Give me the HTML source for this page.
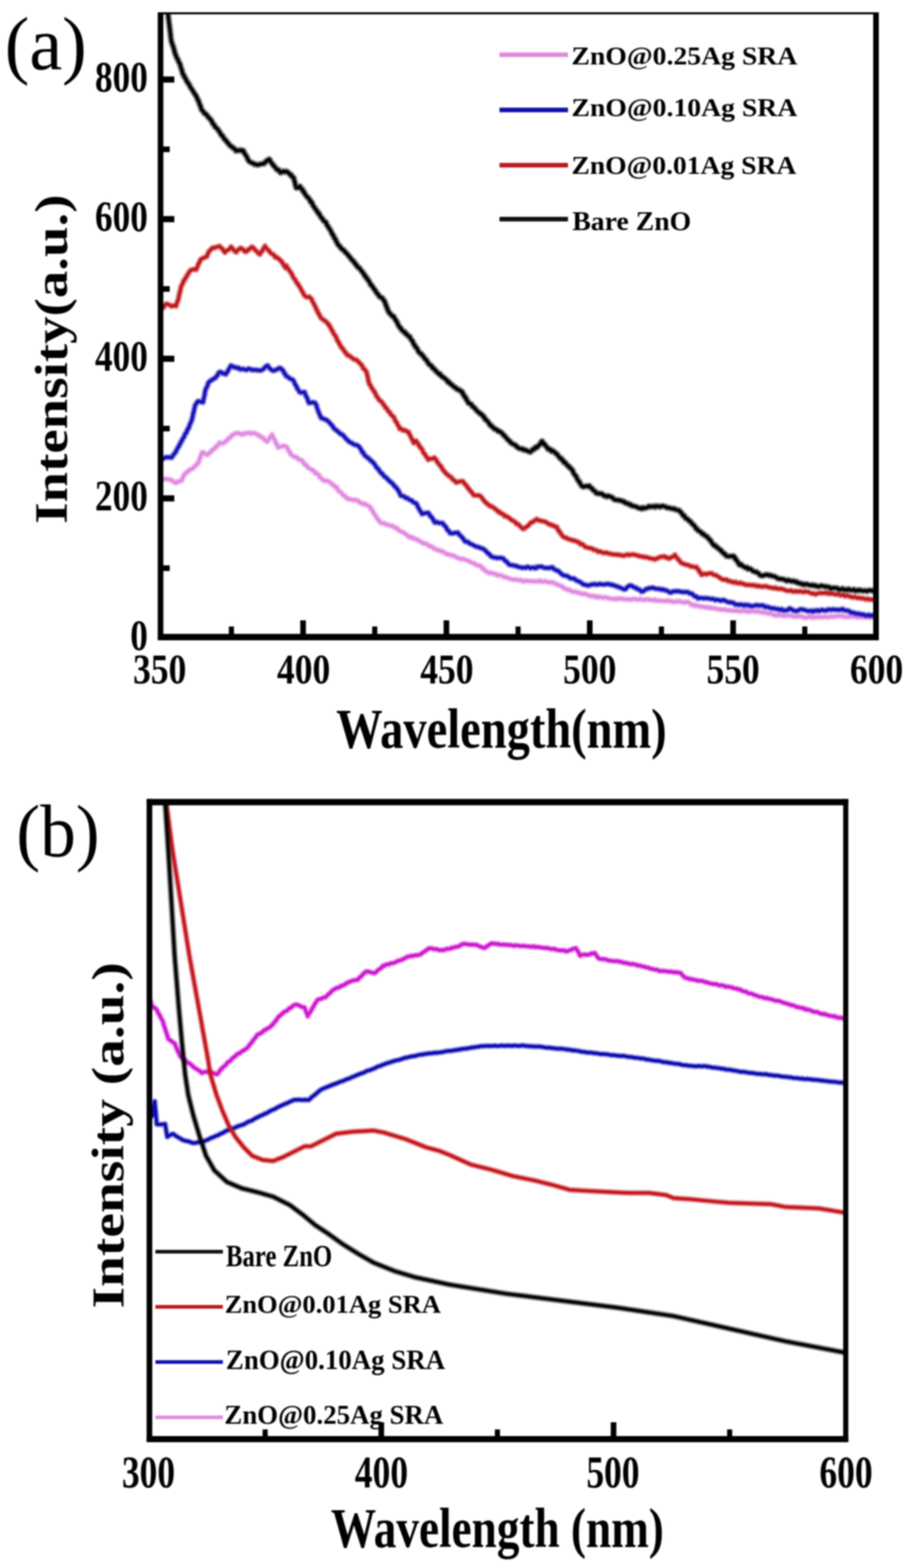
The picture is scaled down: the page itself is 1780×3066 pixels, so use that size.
<!DOCTYPE html>
<html><head><meta charset="utf-8"><title>ZnO@Ag SRA spectra</title>
<style>html,body{margin:0;padding:0;background:#fff;} svg{display:block;filter:blur(1.4px);}</style></head>
<body><svg xmlns="http://www.w3.org/2000/svg" xmlns:xlink="http://www.w3.org/1999/xlink" width="1780" height="3066" viewBox="0 0 1780 3066">
<rect width="1780" height="3066" fill="#fff"/>
<clipPath id="ca"><rect x="314.0" y="26.0" width="1399.5" height="1219.5"/></clipPath>
<clipPath id="cb"><rect x="292" y="1568" width="1362.5" height="1246"/></clipPath>
<g clip-path="url(#ca)">
<defs><path id="c1" d="M312.0,935.5 L316.8,936.0 L320.2,937.3 L323.6,936.6 L327.1,937.1 L330.5,937.7 L333.9,938.2 L337.4,940.5 L340.8,942.3 L344.2,944.3 L347.6,941.6 L351.0,941.3 L354.4,939.9 L355.8,938.7 L357.2,935.3 L358.5,930.6 L359.9,929.9 L361.3,926.8 L364.1,924.3 L367.0,922.5 L369.9,919.6 L372.7,917.5 L375.5,917.1 L378.4,914.2 L380.5,912.4 L382.6,910.4 L384.8,907.7 L386.9,906.7 L388.1,903.5 L389.3,901.3 L390.5,897.3 L391.8,894.5 L393.0,890.9 L394.2,888.2 L395.4,884.5 L398.8,885.2 L402.3,888.2 L405.7,889.3 L408.4,886.8 L411.2,884.4 L413.9,881.3 L416.7,879.1 L419.4,877.2 L421.4,874.2 L423.5,873.6 L425.5,870.3 L427.6,869.1 L429.6,865.5 L433.0,867.0 L436.5,866.7 L439.9,864.5 L442.2,862.2 L444.4,861.1 L446.7,857.1 L449.4,856.4 L452.2,852.9 L454.9,850.0 L457.7,849.4 L460.4,847.7 L463.4,846.8 L466.4,846.8 L469.3,847.8 L472.3,849.9 L475.5,849.2 L478.7,847.3 L481.9,847.4 L485.1,846.8 L488.4,846.5 L491.6,848.2 L494.8,846.4 L498.0,847.2 L500.9,848.6 L503.7,849.6 L506.6,852.7 L509.4,852.8 L512.2,855.9 L515.1,856.2 L517.4,859.3 L519.6,861.0 L521.9,863.4 L523.9,862.5 L526.0,859.3 L528.0,855.3 L530.1,854.1 L532.1,849.6 L533.6,853.1 L535.1,857.3 L536.6,859.7 L538.1,861.3 L539.6,866.6 L541.1,867.6 L542.6,870.7 L544.1,875.0 L547.2,873.5 L550.3,873.1 L553.3,872.2 L556.4,871.9 L559.5,872.8 L561.3,874.8 L563.1,878.6 L564.9,880.8 L566.7,883.9 L568.5,888.0 L570.3,889.7 L573.0,891.4 L575.6,893.6 L578.3,893.2 L581.0,894.6 L583.7,898.0 L586.3,899.3 L589.0,899.2 L591.6,901.7 L594.1,905.7 L596.7,908.8 L599.3,909.4 L601.7,913.4 L604.1,915.3 L606.5,916.6 L608.9,918.2 L611.3,919.4 L613.8,920.9 L616.4,925.1 L619.0,924.9 L621.5,927.8 L623.6,929.0 L625.6,932.9 L627.7,934.7 L629.7,936.3 L631.8,938.4 L635.2,940.6 L638.6,939.8 L642.0,941.1 L645.4,942.9 L647.7,945.6 L650.0,947.0 L652.2,948.1 L654.5,951.7 L656.8,951.8 L659.1,953.3 L661.0,958.3 L663.3,960.8 L665.7,961.8 L668.0,964.2 L670.3,966.7 L672.6,969.3 L675.0,970.2 L677.3,972.8 L680.2,975.1 L683.2,976.2 L686.1,976.3 L689.0,977.2 L691.9,977.8 L694.9,977.6 L697.8,978.2 L700.9,979.4 L703.9,983.0 L707.0,983.7 L710.1,985.7 L713.2,984.5 L716.2,987.4 L719.3,988.3 L722.4,990.2 L724.1,991.7 L725.8,996.0 L727.5,996.2 L729.3,1000.0 L731.0,1003.0 L732.7,1006.0 L734.4,1008.2 L736.1,1010.7 L737.9,1013.5 L739.6,1016.3 L741.3,1017.4 L743.0,1020.9 L746.1,1022.5 L749.1,1023.4 L752.2,1023.3 L755.2,1025.3 L758.3,1026.5 L761.4,1026.7 L764.4,1027.9 L767.5,1028.3 L770.2,1030.4 L773.0,1032.1 L775.7,1032.3 L778.4,1035.3 L781.2,1037.8 L783.9,1039.1 L786.6,1040.3 L789.4,1041.0 L792.1,1043.5 L794.7,1045.2 L797.4,1046.9 L800.0,1050.1 L802.9,1049.3 L805.7,1052.1 L808.5,1051.4 L811.4,1054.0 L814.2,1054.8 L817.1,1055.3 L820.0,1057.9 L822.8,1058.8 L825.6,1060.6 L828.5,1062.8 L831.4,1062.5 L834.2,1063.3 L837.0,1065.5 L839.9,1067.9 L842.8,1068.1 L845.6,1069.4 L848.4,1072.7 L851.3,1073.5 L854.1,1074.1 L857.0,1076.4 L859.8,1076.1 L862.7,1078.1 L865.5,1078.0 L868.3,1079.8 L871.2,1081.9 L874.0,1083.3 L876.9,1084.4 L879.7,1084.2 L882.6,1085.9 L885.4,1086.3 L888.3,1086.8 L891.1,1088.7 L894.0,1090.5 L896.8,1091.5 L899.7,1092.1 L902.5,1093.6 L905.4,1092.8 L908.2,1093.5 L911.1,1095.2 L913.9,1095.9 L916.8,1096.8 L919.6,1098.5 L922.5,1100.2 L925.3,1101.0 L928.2,1101.7 L931.0,1104.2 L933.9,1105.7 L936.7,1105.5 L939.1,1106.4 L941.6,1108.3 L944.0,1112.4 L946.5,1112.2 L948.9,1115.9 L951.4,1117.4 L953.8,1118.7 L957.0,1120.8 L960.2,1119.7 L963.4,1120.8 L966.6,1122.5 L969.8,1122.3 L973.0,1125.2 L976.2,1124.6 L979.4,1125.2 L982.6,1125.8 L985.8,1128.1 L989.0,1128.5 L992.2,1129.8 L995.5,1130.8 L998.7,1132.0 L1001.9,1133.2 L1005.1,1133.4 L1008.5,1132.8 L1011.9,1134.2 L1015.3,1134.1 L1018.7,1134.3 L1022.1,1136.2 L1025.1,1136.9 L1028.2,1135.5 L1031.2,1135.7 L1034.3,1135.9 L1037.3,1136.8 L1040.4,1136.4 L1043.4,1136.6 L1046.5,1137.0 L1049.5,1136.0 L1050.0,1136.5 L1053.1,1137.1 L1056.2,1135.2 L1059.3,1137.8 L1062.4,1137.5 L1065.5,1136.3 L1068.7,1137.4 L1071.8,1138.2 L1074.9,1139.2 L1078.0,1138.2 L1081.1,1139.0 L1084.2,1140.1 L1087.0,1141.4 L1089.9,1143.3 L1092.7,1143.6 L1095.6,1145.6 L1098.4,1145.9 L1101.3,1148.8 L1104.1,1150.6 L1107.0,1151.6 L1109.8,1153.4 L1113.0,1152.9 L1116.2,1155.5 L1119.4,1156.6 L1122.6,1157.4 L1125.8,1157.1 L1129.0,1158.7 L1132.2,1158.3 L1135.4,1160.7 L1138.6,1161.4 L1141.8,1160.9 L1145.0,1161.1 L1148.2,1162.9 L1151.5,1164.0 L1154.7,1165.5 L1157.9,1165.6 L1161.1,1165.3 L1164.2,1167.6 L1167.3,1166.0 L1170.4,1168.2 L1173.5,1166.9 L1176.6,1167.6 L1179.8,1169.1 L1182.9,1167.7 L1186.0,1168.1 L1189.1,1169.3 L1192.2,1170.2 L1195.3,1170.8 L1198.5,1170.6 L1201.7,1171.5 L1204.9,1170.5 L1208.1,1171.9 L1211.3,1169.9 L1214.5,1170.5 L1217.7,1171.5 L1220.9,1171.1 L1224.0,1172.2 L1227.1,1172.0 L1230.2,1171.7 L1233.3,1172.5 L1236.4,1171.8 L1239.6,1171.1 L1242.7,1171.3 L1245.8,1172.5 L1248.9,1172.6 L1252.0,1170.8 L1255.1,1172.5 L1258.3,1173.1 L1261.4,1172.1 L1264.6,1172.5 L1267.8,1171.8 L1271.0,1172.9 L1274.1,1173.1 L1277.3,1173.6 L1280.5,1172.3 L1283.6,1175.0 L1286.8,1174.1 L1290.0,1174.0 L1293.2,1175.3 L1296.3,1174.9 L1299.5,1175.0 L1303.1,1175.7 L1306.6,1174.3 L1310.2,1175.7 L1313.7,1175.6 L1317.3,1177.2 L1320.3,1177.3 L1323.4,1175.7 L1326.4,1176.4 L1329.5,1175.7 L1332.5,1176.6 L1335.6,1177.8 L1338.6,1178.1 L1341.7,1177.2 L1344.7,1176.9 L1347.4,1178.0 L1350.2,1180.4 L1352.9,1182.6 L1355.7,1181.9 L1358.4,1184.9 L1361.4,1183.4 L1364.5,1184.3 L1367.5,1184.9 L1370.5,1186.5 L1373.6,1186.0 L1376.6,1186.6 L1379.6,1187.7 L1382.7,1186.8 L1385.7,1188.9 L1388.7,1187.8 L1391.8,1189.2 L1394.8,1189.0 L1397.8,1189.3 L1400.9,1190.7 L1403.9,1190.9 L1406.9,1191.2 L1410.0,1191.7 L1413.0,1192.5 L1416.0,1191.7 L1419.1,1191.9 L1422.1,1193.2 L1425.2,1193.4 L1428.2,1193.3 L1431.3,1194.2 L1434.3,1193.8 L1437.4,1194.6 L1440.4,1193.1 L1443.4,1194.6 L1446.5,1194.9 L1449.5,1195.3 L1452.5,1193.9 L1455.6,1194.0 L1458.6,1195.8 L1461.6,1194.1 L1464.7,1196.3 L1467.7,1196.1 L1470.8,1194.3 L1474.0,1194.8 L1477.1,1196.3 L1480.2,1195.3 L1483.3,1195.1 L1486.5,1197.2 L1489.6,1196.3 L1492.9,1198.0 L1496.2,1197.0 L1499.5,1198.5 L1502.9,1200.0 L1506.2,1199.0 L1509.5,1200.2 L1512.8,1202.2 L1516.1,1203.1 L1519.4,1203.6 L1522.6,1201.7 L1525.9,1203.0 L1529.2,1204.0 L1532.5,1203.7 L1535.8,1204.5 L1539.0,1203.5 L1542.3,1203.6 L1545.6,1204.0 L1548.9,1204.0 L1552.2,1205.5 L1555.4,1205.5 L1558.7,1205.8 L1562.0,1204.9 L1565.3,1205.1 L1568.6,1205.4 L1571.8,1207.2 L1575.1,1207.7 L1578.4,1207.7 L1581.7,1205.5 L1585.0,1205.5 L1588.2,1207.8 L1591.5,1206.5 L1594.8,1207.3 L1598.1,1206.1 L1601.4,1206.5 L1604.6,1206.6 L1607.9,1206.4 L1611.2,1206.9 L1614.5,1205.2 L1617.8,1206.8 L1621.0,1207.0 L1624.3,1205.1 L1627.6,1205.7 L1630.9,1206.3 L1634.2,1205.2 L1637.4,1204.5 L1640.7,1204.3 L1644.0,1205.0 L1647.3,1203.8 L1650.6,1206.2 L1653.9,1206.0 L1657.2,1205.9 L1660.5,1206.3 L1663.7,1205.8 L1667.0,1205.3 L1670.3,1205.9 L1673.6,1205.7 L1676.9,1207.1 L1680.0,1206.7 L1683.1,1205.3 L1686.2,1207.1 L1689.3,1206.8 L1692.5,1206.9 L1695.6,1207.1 L1698.7,1206.1 L1701.8,1207.5 L1704.9,1207.5 L1708.0,1206.6" fill="none" stroke="#E08AE0" stroke-linejoin="round" stroke-linecap="round"/></defs>
<use href="#c1" stroke-width="12.5" stroke-opacity="0.42"/>
<use href="#c1" stroke-width="6.6"/>
<defs><path id="c2" d="M312.0,897.0 L316.8,896.9 L319.9,896.5 L323.1,894.7 L326.2,894.0 L329.3,894.5 L332.5,893.8 L335.6,894.8 L337.8,891.7 L339.9,888.7 L342.1,885.8 L344.2,883.2 L345.7,879.2 L347.1,877.3 L348.6,873.9 L350.0,873.1 L351.5,868.2 L352.9,867.5 L354.4,862.9 L355.9,861.8 L357.3,858.2 L358.8,855.7 L360.3,854.1 L361.8,849.3 L363.2,846.7 L364.7,846.3 L366.0,842.4 L367.2,838.6 L368.5,838.1 L369.8,835.3 L371.1,830.3 L372.3,828.4 L373.6,824.8 L374.9,822.5 L375.6,820.2 L376.3,816.0 L377.0,814.3 L377.7,809.6 L378.4,806.8 L379.0,805.4 L379.7,801.3 L380.4,798.2 L381.1,795.6 L381.8,792.2 L384.1,789.1 L386.3,785.3 L388.6,784.3 L392.9,785.8 L397.2,786.6 L397.8,782.8 L398.5,779.1 L399.1,776.1 L399.8,773.9 L400.4,770.9 L401.0,766.5 L401.7,763.8 L402.3,761.1 L403.7,758.4 L405.0,756.1 L406.4,752.3 L407.7,748.0 L409.1,746.9 L412.1,744.2 L415.1,742.7 L418.1,740.3 L421.1,739.1 L423.2,736.0 L425.4,734.0 L427.5,729.3 L429.6,727.4 L432.6,727.8 L435.6,730.4 L438.6,730.0 L441.6,731.9 L443.3,729.2 L445.0,727.2 L446.7,722.8 L448.4,721.0 L450.1,717.5 L451.8,714.8 L454.8,716.2 L457.8,718.3 L460.8,717.9 L463.8,720.0 L466.6,719.1 L469.5,722.2 L472.3,721.8 L475.7,721.4 L479.1,722.8 L482.6,723.3 L486.0,720.9 L489.4,721.6 L492.8,723.6 L496.2,723.1 L499.7,723.6 L503.1,723.6 L506.5,724.4 L509.4,724.2 L512.2,723.5 L515.0,721.8 L517.9,718.8 L520.8,715.9 L523.6,714.9 L526.2,718.7 L528.8,721.4 L531.3,723.4 L533.9,724.9 L537.0,724.3 L540.0,722.8 L543.1,721.9 L546.1,719.5 L549.2,720.0 L550.9,722.4 L552.6,723.1 L554.4,726.0 L556.1,730.0 L557.8,731.1 L559.5,735.4 L562.3,736.3 L565.2,738.8 L568.0,740.9 L570.9,741.6 L573.7,743.8 L575.2,746.5 L576.7,750.4 L578.2,753.2 L579.7,754.5 L581.1,759.3 L582.6,760.8 L584.1,763.2 L585.6,766.4 L589.0,767.8 L592.5,766.8 L595.9,766.9 L597.1,770.6 L598.3,773.7 L599.5,776.1 L600.8,778.2 L602.0,781.5 L603.2,785.3 L604.4,788.0 L607.4,787.4 L610.4,786.8 L613.4,786.9 L616.4,787.8 L617.6,790.4 L618.8,792.1 L620.0,797.0 L621.2,800.5 L622.4,803.3 L623.6,806.7 L624.8,809.8 L626.0,811.9 L627.2,815.6 L628.4,817.6 L631.8,818.1 L635.2,820.1 L638.6,821.2 L642.0,824.1 L644.0,825.9 L645.9,828.0 L647.9,830.6 L649.8,831.8 L651.8,835.3 L653.7,838.2 L655.7,839.8 L658.3,841.4 L660.8,843.9 L663.4,845.6 L666.0,848.6 L668.5,849.2 L671.1,851.0 L673.5,853.8 L676.0,857.0 L678.4,859.4 L680.9,861.3 L683.3,864.2 L685.8,865.0 L688.2,866.3 L691.6,868.7 L695.0,869.9 L698.4,870.5 L701.8,873.0 L703.5,874.9 L705.2,877.3 L706.9,880.2 L708.7,884.5 L710.4,884.7 L712.1,888.4 L713.8,890.8 L716.5,892.7 L719.3,895.3 L722.0,896.8 L724.8,900.6 L727.5,901.6 L729.5,904.7 L731.5,905.9 L733.5,909.2 L735.4,912.1 L737.4,915.3 L739.4,916.3 L741.5,919.3 L743.5,922.7 L745.6,925.1 L747.6,925.9 L749.7,929.1 L752.3,932.0 L754.8,933.3 L757.4,936.3 L760.0,938.6 L762.5,941.6 L765.1,942.8 L767.1,945.4 L769.1,946.8 L771.0,950.1 L773.0,951.3 L775.0,954.0 L777.0,955.9 L778.8,959.0 L780.5,961.8 L782.2,965.2 L784.0,969.2 L787.2,969.8 L790.4,970.6 L793.6,973.8 L796.8,973.8 L800.0,976.8 L802.7,977.7 L805.5,978.8 L808.2,981.8 L811.0,983.5 L813.7,983.7 L815.4,986.2 L817.1,990.4 L818.8,993.9 L820.5,996.2 L822.2,999.6 L823.9,1001.5 L825.6,1005.0 L828.6,1003.7 L831.6,1003.6 L834.6,1003.1 L837.6,1002.7 L839.6,1005.4 L841.5,1009.2 L843.5,1010.2 L845.4,1013.0 L847.4,1015.8 L849.3,1020.3 L851.3,1021.9 L854.7,1020.6 L858.1,1022.7 L861.5,1022.8 L864.9,1022.6 L866.8,1023.9 L868.7,1027.3 L870.6,1028.7 L872.5,1030.7 L874.4,1035.1 L876.3,1037.5 L878.2,1038.3 L880.1,1042.5 L882.0,1042.8 L885.4,1043.1 L888.9,1041.9 L892.3,1041.9 L895.7,1041.4 L898.0,1045.4 L900.3,1046.9 L902.5,1049.2 L904.8,1051.7 L907.1,1054.6 L909.4,1058.6 L912.2,1059.4 L915.1,1059.5 L918.0,1062.5 L920.8,1063.5 L923.6,1064.7 L926.5,1066.4 L929.6,1067.8 L932.7,1069.3 L935.9,1069.7 L939.0,1071.2 L942.1,1071.9 L945.2,1073.4 L947.6,1075.0 L950.1,1077.3 L952.5,1079.7 L955.0,1082.5 L957.4,1083.5 L959.9,1087.4 L962.3,1088.5 L965.5,1089.9 L968.7,1090.0 L971.9,1091.1 L975.0,1090.9 L978.2,1090.7 L981.4,1091.2 L984.6,1092.2 L986.6,1094.8 L988.6,1097.3 L990.5,1097.8 L992.5,1099.9 L994.5,1102.3 L996.5,1104.5 L999.7,1104.9 L1002.9,1105.2 L1006.1,1106.2 L1009.3,1106.3 L1012.5,1108.2 L1015.7,1108.5 L1018.9,1109.8 L1022.1,1110.2 L1025.1,1109.8 L1028.2,1110.5 L1031.2,1108.3 L1034.3,1109.0 L1037.3,1111.1 L1040.4,1110.1 L1043.4,1109.6 L1046.5,1111.2 L1049.5,1110.5 L1050.0,1108.5 L1053.1,1108.1 L1056.2,1108.1 L1059.2,1107.8 L1062.3,1109.4 L1065.4,1110.4 L1068.5,1110.7 L1071.6,1110.3 L1074.6,1110.9 L1077.7,1109.6 L1080.8,1109.6 L1083.4,1112.9 L1085.9,1113.8 L1088.5,1115.6 L1091.0,1115.6 L1093.6,1117.9 L1096.2,1120.3 L1098.7,1122.6 L1101.3,1124.5 L1104.5,1125.6 L1107.6,1125.7 L1110.8,1127.1 L1114.0,1129.6 L1117.2,1131.1 L1120.3,1131.0 L1123.5,1131.5 L1126.4,1134.3 L1129.4,1135.8 L1132.3,1137.0 L1135.2,1138.4 L1138.1,1140.5 L1141.1,1142.8 L1144.0,1143.2 L1147.2,1144.1 L1150.4,1145.0 L1153.6,1144.2 L1156.8,1142.7 L1160.0,1142.9 L1163.2,1141.9 L1166.4,1143.3 L1169.6,1142.8 L1172.8,1141.6 L1176.0,1142.6 L1179.2,1142.7 L1182.4,1142.7 L1185.7,1142.2 L1188.9,1142.0 L1192.1,1142.1 L1195.3,1143.8 L1198.1,1143.2 L1201.0,1144.8 L1203.8,1145.8 L1206.7,1146.2 L1209.5,1148.0 L1212.4,1148.6 L1215.2,1150.0 L1218.1,1151.3 L1220.9,1152.4 L1223.9,1151.8 L1226.8,1148.0 L1229.8,1145.9 L1232.8,1144.6 L1235.6,1145.4 L1238.4,1147.2 L1241.2,1149.1 L1243.9,1149.1 L1246.7,1152.1 L1249.5,1152.2 L1252.3,1154.1 L1255.1,1157.0 L1257.9,1156.3 L1260.8,1154.4 L1263.6,1151.9 L1266.4,1151.5 L1269.3,1150.0 L1272.1,1150.3 L1275.1,1149.1 L1278.2,1149.4 L1281.2,1150.9 L1284.3,1151.3 L1287.3,1151.5 L1290.4,1151.6 L1293.4,1153.2 L1296.5,1152.3 L1299.5,1153.9 L1302.2,1153.9 L1305.0,1155.4 L1307.8,1156.5 L1310.5,1158.8 L1313.9,1158.2 L1317.3,1156.2 L1320.8,1156.2 L1324.2,1156.1 L1327.2,1156.0 L1330.3,1156.8 L1333.3,1157.2 L1336.3,1157.9 L1339.4,1157.4 L1342.4,1157.7 L1345.4,1157.5 L1348.5,1160.2 L1351.5,1160.4 L1354.2,1161.2 L1357.0,1164.7 L1359.7,1166.4 L1362.5,1166.4 L1365.2,1170.1 L1368.2,1169.3 L1371.3,1169.3 L1374.3,1169.5 L1377.3,1170.2 L1380.4,1169.5 L1383.4,1169.8 L1386.4,1170.3 L1389.5,1171.1 L1392.5,1171.0 L1395.5,1171.2 L1398.6,1173.4 L1401.6,1172.5 L1404.7,1173.1 L1407.7,1173.7 L1410.8,1174.8 L1413.8,1173.1 L1416.9,1173.6 L1419.9,1175.5 L1422.8,1176.7 L1425.8,1177.7 L1428.7,1177.6 L1431.6,1178.2 L1434.5,1178.7 L1437.5,1181.6 L1440.4,1182.2 L1443.4,1181.9 L1446.5,1182.9 L1449.5,1181.8 L1452.5,1182.8 L1455.6,1184.1 L1458.6,1182.3 L1461.6,1183.9 L1464.7,1183.1 L1467.7,1185.1 L1470.8,1185.1 L1474.0,1184.6 L1477.1,1184.0 L1480.2,1183.0 L1483.3,1184.2 L1486.5,1183.8 L1489.6,1183.9 L1492.9,1183.8 L1496.2,1186.7 L1499.5,1186.4 L1502.9,1187.2 L1506.2,1188.6 L1509.5,1189.4 L1512.8,1189.2 L1516.0,1189.9 L1519.2,1191.3 L1522.4,1190.7 L1525.7,1192.7 L1528.9,1191.1 L1532.1,1193.7 L1535.3,1193.7 L1538.3,1192.8 L1541.4,1192.6 L1544.4,1189.5 L1547.8,1191.1 L1551.2,1193.3 L1554.5,1194.3 L1557.9,1194.9 L1560.9,1194.0 L1564.0,1192.2 L1567.0,1191.2 L1570.4,1192.0 L1573.8,1192.7 L1577.1,1193.9 L1580.5,1194.8 L1583.6,1194.6 L1586.6,1194.1 L1589.7,1196.2 L1592.8,1193.7 L1595.9,1194.6 L1598.9,1193.1 L1602.0,1194.9 L1605.1,1193.5 L1608.2,1192.3 L1611.2,1193.7 L1614.3,1193.4 L1617.4,1193.6 L1620.4,1191.6 L1623.5,1191.9 L1626.6,1192.5 L1629.7,1191.4 L1632.7,1192.1 L1635.8,1192.3 L1638.9,1192.4 L1642.0,1192.4 L1645.0,1192.2 L1648.1,1190.8 L1651.3,1193.2 L1654.6,1193.5 L1657.8,1193.9 L1661.0,1194.7 L1664.2,1197.4 L1667.5,1197.8 L1670.7,1198.2 L1673.9,1199.6 L1677.1,1199.8 L1680.3,1200.0 L1683.5,1201.0 L1686.7,1201.3 L1689.8,1201.6 L1693.0,1203.2 L1696.2,1203.4 L1699.4,1202.2 L1702.6,1204.0 L1705.8,1202.9 L1709.0,1203.8" fill="none" stroke="#1612B8" stroke-linejoin="round" stroke-linecap="round"/></defs>
<use href="#c2" stroke-width="12.5" stroke-opacity="0.42"/>
<use href="#c2" stroke-width="6.6"/>
<defs><path id="c3" d="M312.0,607.0 L314.7,605.1 L317.4,602.7 L320.0,600.7 L322.7,596.6 L325.4,594.3 L328.8,595.2 L332.2,596.6 L335.6,599.0 L339.9,597.4 L344.2,598.5 L345.2,594.6 L346.2,591.7 L347.3,589.0 L348.3,587.0 L349.3,583.3 L349.9,578.8 L350.6,576.4 L351.2,573.1 L351.9,572.0 L352.5,568.9 L353.1,565.9 L353.8,562.9 L354.4,559.7 L356.1,556.9 L357.9,553.1 L359.6,548.3 L361.3,547.1 L363.0,543.4 L364.7,541.3 L366.4,538.1 L368.1,535.0 L370.6,531.4 L373.2,528.2 L376.6,527.3 L380.1,526.2 L383.5,527.4 L384.8,524.4 L386.1,521.9 L387.3,518.2 L388.6,514.8 L390.3,512.5 L392.0,508.0 L393.7,506.6 L397.1,504.8 L400.6,503.0 L404.0,501.9 L405.3,499.8 L406.6,496.1 L407.8,493.7 L409.1,491.1 L412.6,487.9 L416.0,484.6 L419.4,484.7 L422.8,483.2 L426.2,482.4 L429.6,481.4 L432.2,484.4 L434.8,486.2 L437.3,490.3 L439.9,493.7 L442.9,490.1 L445.9,488.8 L448.8,487.2 L451.8,482.7 L454.4,485.1 L457.0,489.0 L459.5,491.2 L462.1,492.9 L464.2,489.5 L466.4,488.0 L468.5,487.0 L470.6,484.9 L473.2,486.8 L475.8,487.4 L478.3,491.3 L480.9,492.2 L483.3,491.0 L485.7,487.4 L488.0,487.5 L490.4,484.5 L492.8,482.8 L495.0,483.7 L497.2,486.9 L499.4,489.0 L501.6,491.2 L503.8,492.8 L506.0,496.0 L508.2,497.2 L509.9,494.5 L511.6,491.6 L513.4,490.4 L515.1,486.3 L516.8,484.1 L518.5,481.1 L520.5,484.9 L522.5,486.9 L524.5,489.2 L526.4,490.1 L528.4,493.5 L530.4,495.5 L533.1,496.8 L535.8,498.5 L538.5,503.1 L541.1,502.7 L543.8,505.2 L546.5,507.0 L549.2,509.9 L550.9,511.1 L552.6,514.6 L554.4,516.9 L556.1,520.7 L557.8,521.1 L559.5,524.5 L560.0,519.3 L561.7,523.3 L563.4,524.9 L565.1,527.6 L566.9,530.8 L568.6,532.6 L570.3,534.7 L572.0,538.7 L573.7,542.6 L575.4,544.8 L577.1,546.2 L578.8,550.0 L580.5,553.2 L582.2,554.3 L583.9,557.8 L585.6,559.9 L587.1,562.3 L588.5,565.1 L590.0,567.6 L591.5,570.7 L593.0,572.5 L594.4,576.1 L595.9,578.0 L598.9,580.6 L601.8,581.1 L604.8,580.4 L607.8,583.2 L609.3,584.6 L610.7,588.3 L612.2,591.4 L613.7,593.8 L615.2,596.6 L616.6,599.9 L618.1,602.1 L619.6,606.9 L621.0,607.8 L622.5,612.6 L624.0,614.0 L625.5,617.1 L626.9,620.3 L628.4,622.3 L631.4,624.3 L634.3,626.6 L637.3,628.5 L640.3,631.4 L642.0,634.6 L643.7,635.1 L645.4,639.3 L647.2,641.2 L648.9,645.8 L650.6,647.5 L652.3,651.9 L653.8,653.9 L655.3,655.6 L656.9,658.1 L658.4,661.6 L659.9,666.1 L661.4,667.1 L663.0,670.8 L664.5,673.3 L666.0,676.1 L667.9,679.7 L669.9,680.6 L671.8,684.4 L673.8,686.7 L675.7,689.8 L677.7,691.2 L679.6,694.7 L682.3,695.1 L685.1,697.2 L687.8,699.0 L690.6,701.3 L693.3,703.1 L696.3,703.2 L699.2,705.5 L702.2,708.6 L705.2,711.5 L706.9,713.5 L708.6,715.6 L710.3,720.0 L712.1,720.9 L713.8,723.1 L715.5,725.6 L717.2,728.3 L718.1,733.4 L718.9,735.2 L719.8,740.1 L720.6,743.9 L721.4,747.5 L722.3,750.4 L723.9,752.0 L725.4,755.2 L727.0,758.4 L728.5,760.7 L730.1,762.2 L731.6,766.1 L733.2,767.0 L734.7,770.2 L736.3,774.6 L737.8,775.9 L739.4,778.0 L741.5,781.9 L743.7,783.6 L745.8,785.0 L748.0,787.6 L750.1,790.8 L752.2,793.5 L754.4,797.7 L756.5,798.4 L758.5,802.5 L760.4,804.9 L762.4,806.2 L764.3,810.2 L766.3,812.0 L768.2,813.7 L770.2,815.6 L771.7,818.9 L773.2,822.8 L774.7,824.6 L776.2,826.5 L777.6,829.8 L779.1,832.8 L780.6,834.8 L782.1,838.6 L785.0,838.3 L787.8,841.5 L790.7,841.0 L793.5,841.9 L796.4,844.3 L799.2,844.7 L800.7,849.1 L802.1,851.1 L803.6,854.1 L805.1,857.8 L806.6,859.2 L808.0,863.5 L809.5,866.2 L813.7,861.9 L815.4,865.9 L817.1,866.0 L818.8,870.7 L820.5,871.4 L822.2,875.8 L823.9,876.5 L825.6,878.8 L827.3,882.7 L829.0,886.5 L830.7,887.4 L832.5,890.7 L834.2,893.7 L835.9,895.4 L837.6,898.9 L840.6,896.7 L843.6,897.0 L846.6,896.9 L849.6,895.0 L851.5,897.1 L853.3,899.1 L855.1,903.2 L857.0,904.9 L858.9,908.6 L860.7,910.5 L862.5,911.3 L864.4,915.8 L866.2,918.3 L868.1,920.4 L869.9,922.8 L871.8,924.9 L874.1,927.1 L876.4,929.0 L878.6,930.9 L880.9,932.1 L883.2,933.9 L885.5,937.5 L887.7,939.3 L890.0,940.0 L892.3,943.6 L895.3,942.6 L898.2,941.5 L901.2,941.4 L904.2,940.8 L906.2,942.0 L908.3,945.6 L910.3,947.3 L912.3,950.0 L914.3,952.0 L916.4,955.9 L918.4,957.1 L920.4,960.9 L922.4,961.8 L924.5,965.2 L926.5,968.3 L929.9,968.5 L933.3,968.6 L936.7,968.7 L940.1,970.5 L942.4,972.9 L944.7,976.5 L947.0,979.0 L949.2,982.1 L951.5,983.2 L953.8,985.7 L956.4,987.8 L958.9,990.0 L961.5,989.9 L964.0,992.0 L966.6,993.5 L969.2,995.7 L971.7,997.3 L974.3,1000.8 L976.8,1000.5 L979.4,1004.1 L982.0,1004.2 L984.5,1005.6 L987.1,1009.4 L989.7,1008.8 L992.2,1010.5 L994.8,1012.3 L997.4,1013.8 L1000.0,1016.4 L1002.5,1017.6 L1005.1,1019.2 L1007.8,1020.8 L1010.5,1024.5 L1013.2,1024.8 L1015.8,1027.2 L1018.5,1030.1 L1021.2,1032.8 L1023.9,1034.2 L1026.5,1032.5 L1029.0,1030.6 L1031.6,1028.9 L1034.1,1027.2 L1036.7,1023.5 L1039.3,1021.4 L1041.8,1021.0 L1044.4,1018.8 L1046.9,1016.9 L1049.5,1015.7 L1050.0,1015.2 L1053.4,1017.6 L1056.8,1017.8 L1060.3,1018.9 L1063.7,1019.4 L1067.1,1020.5 L1069.9,1022.6 L1072.6,1023.8 L1075.4,1026.0 L1078.2,1025.7 L1081.0,1028.1 L1083.8,1027.8 L1086.5,1030.5 L1089.3,1030.5 L1091.0,1035.0 L1092.7,1038.0 L1094.4,1038.8 L1096.2,1042.9 L1097.9,1044.1 L1099.6,1047.0 L1101.3,1049.2 L1104.5,1051.1 L1107.7,1051.3 L1110.9,1053.9 L1114.1,1054.6 L1117.3,1055.3 L1120.5,1057.1 L1123.7,1056.9 L1126.9,1058.3 L1129.7,1059.8 L1132.5,1060.4 L1135.2,1064.2 L1138.0,1063.6 L1140.8,1065.2 L1143.5,1068.5 L1146.3,1070.0 L1149.1,1070.6 L1152.1,1071.6 L1155.1,1071.9 L1158.1,1072.6 L1161.0,1075.0 L1164.0,1075.3 L1167.0,1076.2 L1170.0,1079.2 L1173.0,1078.0 L1176.2,1079.3 L1179.4,1080.9 L1182.6,1081.3 L1185.7,1080.2 L1188.9,1082.3 L1192.1,1082.4 L1195.3,1083.0 L1198.5,1084.3 L1201.7,1084.3 L1204.9,1084.2 L1208.1,1085.1 L1211.3,1084.8 L1214.5,1085.4 L1217.7,1086.5 L1220.9,1086.4 L1224.3,1085.4 L1227.7,1084.2 L1231.2,1085.8 L1234.6,1084.3 L1238.0,1084.2 L1241.2,1084.5 L1244.4,1085.8 L1247.6,1086.1 L1250.8,1087.8 L1254.0,1087.8 L1257.2,1088.4 L1260.4,1089.6 L1263.6,1089.3 L1267.0,1090.3 L1270.4,1091.5 L1273.9,1092.1 L1277.3,1092.9 L1280.7,1093.9 L1283.8,1092.2 L1287.0,1091.3 L1290.1,1089.5 L1293.2,1088.8 L1296.4,1088.5 L1299.5,1087.8 L1302.3,1090.4 L1305.0,1089.8 L1307.8,1092.2 L1310.9,1091.5 L1313.9,1089.1 L1317.0,1088.4 L1320.1,1084.9 L1322.3,1089.2 L1324.5,1091.1 L1326.6,1094.1 L1328.8,1095.5 L1331.0,1099.1 L1334.3,1101.6 L1337.6,1102.8 L1340.8,1103.7 L1344.1,1104.7 L1347.4,1105.1 L1350.4,1107.4 L1353.4,1107.2 L1356.5,1108.5 L1359.5,1108.8 L1362.5,1108.7 L1364.4,1112.7 L1366.3,1113.5 L1368.2,1118.4 L1370.1,1118.9 L1372.0,1123.9 L1375.3,1122.6 L1378.6,1122.0 L1381.8,1123.0 L1385.1,1121.6 L1388.4,1121.3 L1392.1,1121.1 L1395.7,1123.9 L1399.4,1124.4 L1402.8,1126.1 L1406.2,1128.5 L1409.1,1130.3 L1412.1,1132.6 L1415.0,1133.4 L1417.9,1133.4 L1420.8,1133.2 L1423.8,1136.3 L1426.7,1135.6 L1429.7,1137.6 L1432.8,1137.6 L1435.8,1139.4 L1438.8,1137.9 L1441.9,1140.2 L1444.9,1140.6 L1447.9,1139.3 L1451.0,1141.4 L1454.0,1141.3 L1457.0,1142.8 L1459.9,1143.9 L1462.9,1143.6 L1465.9,1143.6 L1468.8,1144.4 L1471.8,1143.9 L1474.8,1144.9 L1477.7,1144.5 L1480.7,1146.5 L1483.7,1145.3 L1486.6,1146.9 L1489.6,1146.5 L1492.6,1147.5 L1495.6,1146.3 L1498.6,1146.3 L1501.6,1147.9 L1504.6,1148.2 L1507.7,1149.2 L1510.8,1149.3 L1513.8,1150.7 L1516.9,1149.1 L1520.0,1151.0 L1523.0,1151.6 L1526.1,1151.0 L1529.2,1151.6 L1532.3,1152.3 L1535.3,1153.6 L1538.4,1154.8 L1541.5,1155.1 L1544.6,1155.2 L1547.7,1154.5 L1550.7,1156.7 L1553.8,1156.6 L1556.9,1155.8 L1560.0,1157.1 L1563.0,1156.2 L1566.1,1156.5 L1569.2,1157.0 L1572.2,1157.9 L1575.3,1156.3 L1578.4,1157.3 L1581.7,1157.5 L1585.0,1159.5 L1588.2,1160.7 L1591.5,1160.1 L1594.8,1162.1 L1598.1,1160.9 L1601.4,1159.8 L1604.6,1159.4 L1607.9,1159.6 L1611.2,1159.8 L1614.2,1159.6 L1617.2,1158.5 L1620.1,1160.9 L1623.1,1160.7 L1626.1,1160.7 L1629.1,1160.6 L1632.1,1161.5 L1635.1,1162.6 L1638.0,1161.8 L1641.0,1161.9 L1644.0,1164.2 L1647.1,1163.6 L1650.2,1163.1 L1653.2,1165.8 L1656.3,1164.2 L1659.4,1165.4 L1662.4,1166.6 L1665.5,1167.2 L1668.6,1168.3 L1671.7,1166.9 L1674.8,1168.3 L1677.9,1169.5 L1680.9,1168.8 L1684.0,1169.9 L1687.1,1169.6 L1690.2,1170.7 L1693.3,1171.7 L1697.0,1170.7 L1700.7,1172.4 L1704.3,1172.0 L1708.0,1173.0" fill="none" stroke="#C01A1E" stroke-linejoin="round" stroke-linecap="round"/></defs>
<use href="#c3" stroke-width="12.5" stroke-opacity="0.42"/>
<use href="#c3" stroke-width="6.6"/>
<defs><path id="c4" d="M328.4,25.5 L328.7,28.8 L329.1,31.4 L329.4,34.9 L329.7,35.8 L330.0,38.5 L330.4,42.5 L330.7,45.1 L331.0,46.8 L331.4,50.6 L331.7,52.5 L332.0,56.3 L332.4,57.2 L332.7,60.2 L333.0,64.8 L333.4,66.1 L333.7,68.5 L334.0,72.8 L334.3,75.0 L334.7,76.4 L335.0,80.2 L335.8,83.1 L336.6,84.1 L337.4,88.0 L338.2,89.0 L339.0,92.1 L339.7,93.9 L340.5,96.7 L341.3,101.4 L342.1,102.2 L342.9,106.4 L343.7,107.3 L344.8,110.3 L345.9,113.5 L347.0,115.4 L348.1,116.3 L349.2,120.1 L350.3,122.6 L351.4,123.8 L352.5,126.1 L353.3,130.9 L354.1,132.6 L354.9,134.4 L355.7,137.9 L356.5,139.9 L357.3,144.2 L358.4,145.7 L359.6,146.9 L360.8,151.1 L361.9,151.4 L363.1,154.2 L364.2,155.8 L365.7,160.1 L367.2,160.7 L368.7,164.2 L370.1,165.4 L371.6,168.8 L373.1,171.7 L374.6,173.6 L376.1,175.8 L377.6,178.3 L379.0,180.6 L380.5,183.5 L382.0,184.5 L383.5,188.0 L384.9,189.8 L386.4,194.0 L387.3,196.7 L388.3,196.7 L389.2,199.4 L390.2,203.4 L391.1,205.5 L392.1,206.5 L393.0,210.8 L394.0,214.0 L394.9,215.0 L396.6,216.7 L398.3,219.2 L400.0,222.1 L401.7,222.1 L403.5,224.1 L405.2,225.7 L406.9,228.9 L408.6,230.3 L410.3,231.6 L411.8,234.1 L413.3,235.3 L414.8,238.2 L416.3,242.2 L417.8,243.2 L419.3,244.5 L420.8,248.5 L422.3,249.0 L424.0,251.0 L425.7,252.6 L427.4,255.2 L429.1,257.6 L430.8,260.0 L432.5,264.0 L434.2,264.5 L435.9,266.6 L437.6,269.7 L439.4,272.7 L441.1,273.1 L442.8,276.6 L444.5,277.6 L446.2,280.3 L448.1,282.1 L450.1,284.8 L452.0,286.0 L453.9,287.0 L455.8,289.6 L457.8,290.0 L459.7,291.8 L461.6,295.1 L464.3,293.9 L467.0,294.6 L469.8,293.3 L472.5,295.0 L475.2,294.1 L476.4,295.3 L477.6,299.5 L478.8,300.4 L480.0,302.2 L481.2,304.2 L482.4,306.0 L483.6,308.5 L484.8,312.1 L486.0,312.8 L487.2,315.3 L489.8,317.0 L492.3,318.4 L494.9,319.1 L497.5,321.3 L500.0,321.0 L502.6,322.4 L505.6,322.2 L508.6,320.9 L511.6,320.7 L514.6,320.1 L516.6,320.0 L518.6,316.7 L520.5,316.5 L522.5,313.5 L524.5,313.0 L526.5,311.3 L527.9,312.8 L529.4,316.7 L530.8,318.2 L532.2,320.2 L533.7,321.0 L535.1,324.3 L537.0,325.6 L539.0,327.9 L540.9,330.9 L542.9,332.4 L544.8,331.9 L546.8,335.3 L548.7,337.7 L551.4,336.3 L554.2,334.7 L556.9,336.5 L559.7,334.9 L562.4,336.1 L564.1,337.8 L565.8,339.6 L567.5,341.9 L569.3,341.4 L571.0,345.4 L572.7,346.0 L574.4,347.5 L575.1,350.8 L575.9,354.1 L576.6,355.2 L577.3,359.1 L578.0,362.7 L578.8,364.6 L579.5,367.4 L581.9,366.0 L584.3,367.1 L586.7,364.3 L588.3,367.7 L589.9,369.8 L591.5,370.1 L593.1,375.1 L594.7,375.1 L596.4,379.4 L598.0,381.4 L599.6,383.5 L601.2,385.5 L602.8,386.4 L604.4,388.7 L605.9,390.7 L607.4,394.7 L609.0,394.4 L610.5,397.0 L612.0,401.6 L613.5,403.4 L615.1,405.4 L616.6,408.4 L618.1,409.5 L619.6,412.6 L621.1,413.8 L622.5,417.3 L624.0,417.3 L625.5,420.6 L627.0,423.2 L628.6,425.8 L630.1,426.7 L631.7,429.4 L633.3,432.1 L634.9,432.6 L636.4,433.9 L638.0,435.4 L639.3,440.0 L640.6,441.2 L641.9,443.2 L643.2,445.9 L644.5,447.0 L645.8,449.6 L647.1,451.9 L648.4,454.2 L649.7,458.2 L651.0,458.7 L652.3,460.6 L653.6,465.0 L654.9,466.4 L656.1,467.2 L657.4,471.3 L658.7,473.7 L660.0,475.8 L661.2,478.5 L662.5,479.8 L664.4,481.1 L666.3,484.5 L668.2,486.1 L670.1,488.2 L672.0,488.6 L673.9,491.0 L675.8,493.8 L677.7,494.9 L679.6,497.4 L681.3,499.1 L683.0,502.0 L684.7,502.9 L686.4,505.4 L688.2,508.5 L689.9,509.1 L691.6,510.8 L693.3,514.2 L695.0,514.9 L696.7,518.8 L698.4,519.1 L700.1,522.8 L701.9,523.7 L703.6,524.6 L705.3,527.5 L707.0,529.9 L708.7,531.3 L710.2,534.0 L711.7,535.5 L713.2,539.4 L714.7,539.5 L716.3,543.5 L717.8,543.6 L719.3,547.3 L720.8,548.3 L722.3,550.8 L723.9,554.2 L725.4,557.3 L727.0,557.8 L728.5,560.2 L730.1,562.6 L731.6,565.1 L733.2,566.6 L734.7,568.8 L736.3,572.3 L737.8,573.7 L739.4,575.3 L741.4,578.6 L743.4,581.1 L745.4,581.5 L747.4,582.3 L749.4,585.2 L751.4,588.8 L752.4,589.2 L753.3,591.8 L754.3,595.9 L755.2,596.5 L756.2,601.0 L757.1,601.7 L758.1,604.7 L759.0,607.7 L760.0,608.8 L762.0,612.7 L764.0,613.7 L766.0,616.6 L767.9,618.6 L769.9,618.6 L771.9,622.7 L773.2,625.0 L774.5,625.8 L775.7,629.1 L777.0,630.4 L778.3,633.7 L779.5,636.6 L780.8,637.9 L782.1,640.7 L784.0,641.5 L785.9,645.4 L787.8,646.7 L789.7,649.1 L791.6,648.9 L793.5,652.7 L795.4,652.8 L797.3,656.0 L799.2,656.9 L800.0,658.2 L801.4,658.3 L802.9,661.6 L804.3,663.8 L805.7,665.9 L807.1,667.3 L808.5,671.2 L810.0,674.3 L811.4,674.9 L812.8,678.7 L814.2,679.4 L815.7,681.5 L817.1,684.3 L818.8,687.9 L820.5,689.5 L822.2,691.2 L824.0,691.7 L825.7,695.0 L827.4,695.9 L829.1,698.1 L830.8,701.2 L832.5,702.7 L834.2,704.2 L835.9,707.2 L837.6,709.8 L839.3,712.1 L841.0,713.9 L842.7,714.5 L844.4,715.6 L846.1,719.7 L847.8,720.1 L849.7,721.6 L851.5,724.6 L853.4,725.6 L855.3,728.4 L857.2,729.4 L859.0,731.8 L860.9,731.3 L862.8,735.2 L864.7,735.8 L866.5,737.9 L868.4,738.5 L870.3,740.1 L872.1,741.9 L874.0,743.3 L875.9,747.2 L877.7,746.6 L879.6,748.6 L881.4,751.4 L883.3,751.9 L885.2,753.7 L887.0,755.5 L888.9,757.2 L891.2,757.7 L893.4,760.8 L895.7,761.7 L898.0,761.9 L900.2,764.7 L902.5,764.9 L903.9,766.1 L905.2,770.5 L906.6,770.6 L908.0,774.5 L909.4,776.7 L910.7,776.7 L912.1,781.3 L913.5,782.3 L914.8,784.8 L916.2,788.2 L918.2,788.6 L920.1,789.7 L922.1,790.8 L924.0,794.9 L926.0,795.4 L927.9,797.8 L929.9,799.3 L931.8,802.2 L933.7,804.0 L935.6,805.9 L937.5,806.6 L939.5,809.7 L941.4,809.9 L943.3,811.3 L945.2,814.7 L946.9,815.0 L948.6,819.7 L950.3,820.0 L952.0,822.3 L953.8,824.0 L955.5,826.1 L957.2,828.8 L958.9,831.5 L960.6,831.4 L962.3,834.4 L964.7,835.6 L967.2,839.0 L969.6,839.0 L972.1,840.5 L974.5,843.4 L977.0,843.3 L979.4,844.8 L981.3,846.7 L983.2,848.1 L985.1,851.3 L987.0,852.1 L988.9,854.6 L990.8,856.6 L992.7,859.1 L994.6,860.9 L996.5,862.0 L998.5,864.9 L1000.6,866.4 L1002.6,867.9 L1004.7,868.9 L1006.8,869.7 L1008.8,870.9 L1010.9,873.9 L1012.9,874.3 L1015.0,876.7 L1017.0,877.2 L1019.6,877.8 L1022.1,877.5 L1024.7,880.1 L1027.2,879.5 L1029.8,880.7 L1032.4,882.0 L1034.9,883.0 L1037.5,883.9 L1039.9,881.4 L1042.3,878.5 L1044.7,878.7 L1047.1,874.6 L1049.5,873.9 L1050.0,875.4 L1052.1,873.1 L1054.1,870.3 L1056.2,869.1 L1058.2,865.1 L1060.3,862.6 L1062.0,865.3 L1063.7,869.0 L1065.4,868.5 L1067.1,871.2 L1068.8,873.7 L1070.5,874.8 L1072.2,878.6 L1074.4,877.7 L1076.6,878.9 L1078.8,882.6 L1081.0,881.1 L1083.2,882.9 L1085.4,884.6 L1087.6,887.2 L1089.3,887.6 L1091.0,890.1 L1092.7,892.7 L1094.4,894.1 L1096.2,896.7 L1097.9,896.3 L1099.6,899.7 L1101.3,900.2 L1103.2,904.4 L1105.1,904.0 L1107.0,906.1 L1108.9,908.9 L1110.8,911.3 L1112.7,911.5 L1114.6,915.2 L1116.5,915.6 L1118.4,918.1 L1119.9,919.7 L1121.4,923.9 L1122.9,926.6 L1124.3,928.8 L1125.8,929.9 L1127.3,932.0 L1128.8,936.3 L1130.3,938.3 L1131.7,941.0 L1133.2,941.7 L1134.6,945.3 L1136.0,947.0 L1137.5,949.6 L1138.9,951.1 L1141.6,951.9 L1144.3,951.1 L1147.1,950.5 L1149.8,951.0 L1152.5,949.8 L1154.5,953.3 L1156.4,954.0 L1158.4,955.3 L1160.3,958.7 L1162.3,959.7 L1164.2,960.8 L1166.2,964.2 L1168.8,965.1 L1171.3,964.5 L1173.9,965.7 L1176.5,965.1 L1179.0,966.9 L1181.6,969.5 L1184.1,969.1 L1186.7,971.3 L1189.4,969.6 L1192.2,970.6 L1194.9,971.7 L1197.7,972.8 L1200.4,975.7 L1203.0,977.2 L1205.5,977.4 L1208.1,977.8 L1210.7,978.1 L1213.2,978.9 L1215.8,979.1 L1218.3,980.7 L1220.9,980.7 L1223.3,983.7 L1225.8,983.9 L1228.2,984.4 L1230.7,986.7 L1233.1,986.2 L1235.6,988.8 L1238.0,989.3 L1240.4,989.8 L1242.9,990.4 L1245.3,991.3 L1247.8,992.7 L1250.2,993.7 L1252.7,993.2 L1255.1,995.1 L1257.9,992.5 L1260.8,993.9 L1263.6,993.2 L1266.4,991.9 L1269.3,989.9 L1272.1,991.5 L1274.8,990.1 L1277.6,989.9 L1280.3,991.7 L1283.1,989.2 L1285.8,990.8 L1288.5,989.6 L1291.3,991.4 L1294.0,989.6 L1296.8,989.3 L1299.5,990.4 L1302.2,991.2 L1305.0,993.0 L1307.8,992.6 L1310.5,993.6 L1313.2,994.1 L1316.0,995.2 L1318.7,994.5 L1321.4,996.2 L1324.2,997.3 L1326.9,997.4 L1328.7,998.3 L1330.5,1000.9 L1332.3,1001.9 L1334.2,1005.0 L1336.0,1007.9 L1337.8,1007.8 L1339.8,1011.4 L1341.7,1013.9 L1343.7,1013.9 L1345.6,1015.7 L1347.6,1018.5 L1349.5,1018.8 L1351.5,1020.9 L1353.2,1023.7 L1354.9,1025.3 L1356.6,1026.2 L1358.3,1028.2 L1360.1,1030.9 L1361.8,1033.9 L1363.5,1033.9 L1365.2,1037.1 L1367.4,1038.4 L1369.7,1039.4 L1371.9,1041.5 L1374.1,1044.3 L1376.3,1044.0 L1378.5,1046.9 L1380.8,1048.4 L1383.0,1049.1 L1384.7,1051.8 L1386.4,1053.1 L1388.1,1055.6 L1389.8,1056.4 L1391.5,1059.8 L1393.2,1062.4 L1394.9,1064.5 L1396.6,1066.5 L1398.6,1066.2 L1400.5,1069.3 L1402.5,1069.6 L1404.4,1072.1 L1406.4,1073.0 L1408.3,1075.3 L1410.3,1075.9 L1412.3,1079.5 L1414.4,1080.2 L1416.4,1083.2 L1418.5,1083.5 L1420.5,1087.1 L1422.6,1087.7 L1425.7,1087.9 L1428.8,1087.5 L1431.8,1087.9 L1434.9,1087.3 L1436.3,1088.6 L1437.6,1092.6 L1439.0,1092.3 L1440.4,1095.7 L1441.8,1096.9 L1443.1,1098.9 L1444.5,1101.4 L1446.8,1104.6 L1449.2,1103.2 L1451.5,1106.3 L1453.9,1107.1 L1456.2,1109.0 L1458.6,1110.2 L1460.9,1109.3 L1463.2,1112.7 L1465.5,1111.5 L1467.7,1112.5 L1470.0,1113.9 L1472.3,1116.3 L1474.6,1117.0 L1476.8,1118.4 L1479.1,1118.1 L1481.4,1119.9 L1484.1,1121.3 L1486.9,1124.9 L1489.6,1125.6 L1492.1,1125.8 L1494.6,1125.0 L1497.1,1123.9 L1499.6,1123.7 L1502.1,1124.0 L1504.6,1125.3 L1507.1,1124.6 L1509.5,1126.2 L1512.0,1126.6 L1514.4,1126.9 L1516.9,1128.3 L1519.4,1129.5 L1521.8,1131.5 L1524.3,1131.9 L1526.7,1131.8 L1529.2,1132.2 L1531.7,1132.6 L1534.1,1133.4 L1536.6,1134.4 L1539.0,1136.1 L1541.5,1134.1 L1544.0,1134.9 L1546.4,1135.9 L1548.9,1136.9 L1551.3,1136.0 L1553.8,1136.4 L1556.3,1138.4 L1558.7,1137.5 L1561.2,1140.3 L1563.6,1140.5 L1566.1,1140.5 L1568.6,1142.6 L1571.0,1141.7 L1573.5,1143.6 L1575.9,1142.1 L1578.4,1142.3 L1581.1,1143.5 L1583.9,1144.1 L1586.6,1144.8 L1589.3,1143.6 L1592.1,1145.5 L1594.8,1144.6 L1597.5,1146.7 L1600.3,1146.6 L1603.0,1146.8 L1605.7,1145.2 L1608.5,1145.7 L1611.2,1146.0 L1613.9,1147.6 L1616.7,1146.9 L1619.4,1147.7 L1622.1,1147.9 L1624.9,1150.9 L1627.6,1149.9 L1630.1,1149.6 L1632.6,1149.5 L1635.2,1150.1 L1637.7,1149.9 L1640.2,1152.1 L1642.7,1152.7 L1645.3,1152.7 L1647.8,1150.8 L1650.3,1152.6 L1652.8,1153.5 L1655.4,1152.5 L1657.9,1153.8 L1660.4,1151.9 L1662.9,1153.5 L1665.4,1154.2 L1667.9,1153.5 L1670.4,1152.7 L1672.9,1155.3 L1675.4,1155.0 L1677.9,1153.6 L1680.4,1155.0 L1682.9,1153.6 L1685.5,1154.9 L1688.0,1155.3 L1690.5,1155.2 L1693.0,1154.8 L1695.5,1156.1 L1698.0,1155.0 L1700.5,1154.2 L1703.0,1154.6 L1705.5,1154.7 L1708.0,1155.8" fill="none" stroke="#050505" stroke-linejoin="round" stroke-linecap="round"/></defs>
<use href="#c4" stroke-width="13.3" stroke-opacity="0.42"/>
<use href="#c4" stroke-width="7.0"/>
</g>
<rect x="308.50" y="24.00" width="11.00" height="1228.00" fill="#000"/>
<rect x="1708.00" y="24.00" width="11.00" height="1228.00" fill="#000"/>
<rect x="309.00" y="24.00" width="1410.00" height="4.00" fill="#000"/>
<rect x="309.00" y="1239.50" width="1410.00" height="12.50" fill="#000"/>
<rect x="314.00" y="1105.50" width="18.00" height="11.00" fill="#000"/>
<rect x="314.00" y="968.50" width="27.00" height="12.00" fill="#000"/>
<rect x="314.00" y="832.50" width="18.00" height="11.00" fill="#000"/>
<rect x="314.00" y="695.50" width="27.00" height="12.00" fill="#000"/>
<rect x="314.00" y="559.50" width="18.00" height="11.00" fill="#000"/>
<rect x="314.00" y="422.50" width="27.00" height="12.00" fill="#000"/>
<rect x="314.00" y="286.50" width="18.00" height="11.00" fill="#000"/>
<rect x="314.00" y="149.50" width="27.00" height="12.00" fill="#000"/>
<rect x="447.60" y="1225.00" width="10.00" height="17.00" fill="#000"/>
<rect x="587.30" y="1213.00" width="11.00" height="29.00" fill="#000"/>
<rect x="728.00" y="1225.00" width="10.00" height="17.00" fill="#000"/>
<rect x="867.70" y="1213.00" width="11.00" height="29.00" fill="#000"/>
<rect x="1008.40" y="1225.00" width="10.00" height="17.00" fill="#000"/>
<rect x="1148.10" y="1213.00" width="11.00" height="29.00" fill="#000"/>
<rect x="1288.80" y="1225.00" width="10.00" height="17.00" fill="#000"/>
<rect x="1428.50" y="1213.00" width="11.00" height="29.00" fill="#000"/>
<rect x="1569.20" y="1225.00" width="10.00" height="17.00" fill="#000"/>
<g font-family="'Liberation Serif', 'Times New Roman', serif" font-size="100">
<text transform="translate(254.76,1271.33) scale(0.6900,0.8358)" font-weight="bold" fill="#000">0</text>
<text transform="translate(185.76,998.33) scale(0.6900,0.8358)" font-weight="bold" fill="#000">200</text>
<text transform="translate(185.76,725.33) scale(0.6900,0.8358)" font-weight="bold" fill="#000">400</text>
<text transform="translate(185.76,452.33) scale(0.6900,0.8358)" font-weight="bold" fill="#000">600</text>
<text transform="translate(185.76,179.33) scale(0.6900,0.8358)" font-weight="bold" fill="#000">800</text>
<text transform="translate(260.27,1336.34) scale(0.6950,0.8284)" font-weight="bold" fill="#000">350</text>
<text transform="translate(541.72,1336.34) scale(0.6950,0.8284)" font-weight="bold" fill="#000">400</text>
<text transform="translate(822.12,1336.34) scale(0.6950,0.8284)" font-weight="bold" fill="#000">450</text>
<text transform="translate(1101.47,1336.34) scale(0.6950,0.8284)" font-weight="bold" fill="#000">500</text>
<text transform="translate(1381.88,1336.34) scale(0.6950,0.8284)" font-weight="bold" fill="#000">550</text>
<text transform="translate(1662.62,1336.34) scale(0.6950,0.8284)" font-weight="bold" fill="#000">600</text>
<text transform="translate(657.59,1461.50) scale(0.9093,1.1077)" font-weight="bold" fill="#000">Wavelength(nm)</text>
<text transform="translate(131.00,1024.22) rotate(-90) scale(1.0732,0.9185)" font-weight="bold">Intensity(a.u.)</text>
<text transform="translate(9.21,135.73) scale(1.4466,1.4889)" font-weight="normal" fill="#000">(a)</text>
<text transform="translate(1117.79,125.50) scale(0.5420,0.5154)" font-weight="bold" fill="#000">ZnO@0.25Ag SRA</text>
<text transform="translate(1117.79,227.00) scale(0.5420,0.5000)" font-weight="bold" fill="#000">ZnO@0.10Ag SRA</text>
<text transform="translate(1117.80,339.50) scale(0.5395,0.5077)" font-weight="bold" fill="#000">ZnO@0.01Ag SRA</text>
<text transform="translate(1119.41,450.00) scale(0.5427,0.5308)" font-weight="bold" fill="#000">Bare ZnO</text>
</g>
<rect x="977.00" y="102.50" width="134.00" height="9.00" fill="#DE8CDA"/>
<rect x="977.00" y="210.50" width="134.00" height="9.00" fill="#1010A8"/>
<rect x="977.00" y="318.50" width="134.00" height="9.00" fill="#B81A1E"/>
<rect x="977.00" y="424.00" width="134.00" height="9.00" fill="#111"/>
<g clip-path="url(#cb)">
<defs><path id="c5" d="M294.4,1957.8 L295.4,1961.0 L296.4,1966.4 L299.0,1967.4 L301.5,1971.0 L304.1,1971.3 L306.7,1974.9 L308.1,1977.3 L309.4,1980.3 L310.8,1983.3 L312.2,1984.7 L313.5,1987.6 L314.9,1991.0 L316.3,1992.9 L317.6,1995.6 L319.0,1998.3 L319.9,2002.4 L320.9,2005.4 L321.8,2008.3 L322.7,2010.2 L323.6,2014.5 L324.6,2016.7 L325.5,2019.2 L326.4,2022.6 L327.3,2025.5 L328.3,2027.9 L329.2,2031.7 L332.3,2033.4 L335.4,2035.8 L338.4,2038.5 L341.5,2040.1 L342.8,2042.7 L344.1,2046.6 L345.4,2049.9 L346.6,2052.1 L347.9,2056.0 L349.2,2057.4 L350.5,2060.7 L351.8,2063.8 L354.2,2067.2 L356.5,2068.8 L358.9,2070.9 L361.3,2072.2 L363.6,2074.6 L366.0,2077.4 L368.8,2078.0 L371.5,2080.1 L374.2,2082.0 L377.0,2084.8 L379.8,2087.6 L382.5,2089.1 L385.6,2090.9 L388.6,2093.2 L391.7,2094.6 L394.8,2098.1 L398.1,2096.6 L401.4,2096.0 L404.6,2095.7 L407.9,2096.2 L411.2,2094.9 L414.3,2097.5 L417.4,2098.0 L420.4,2099.7 L423.5,2100.6 L425.6,2099.8 L427.6,2097.2 L429.7,2094.3 L431.7,2091.3 L433.8,2089.7 L435.8,2087.1 L437.9,2085.6 L440.2,2083.7 L442.4,2081.3 L444.7,2078.4 L446.9,2075.9 L449.2,2075.4 L451.5,2073.4 L453.7,2070.0 L456.0,2068.5 L458.2,2066.4 L460.5,2065.3 L463.2,2061.8 L465.9,2060.0 L468.7,2059.6 L471.4,2057.2 L474.1,2055.2 L476.8,2054.0 L479.6,2051.8 L482.3,2050.2 L485.0,2047.6 L486.9,2044.8 L488.7,2042.2 L490.6,2040.3 L492.4,2038.4 L494.2,2035.5 L496.1,2033.0 L497.9,2031.0 L499.8,2028.7 L501.6,2026.0 L503.5,2023.1 L506.2,2022.3 L508.8,2020.7 L511.5,2019.2 L514.2,2017.5 L516.9,2014.3 L519.5,2013.9 L522.2,2011.6 L524.9,2010.1 L527.5,2008.7 L530.2,2006.4 L532.2,2004.0 L534.3,2002.8 L536.4,1999.0 L538.4,1997.5 L540.5,1994.5 L542.5,1991.3 L544.6,1988.7 L546.6,1986.7 L549.3,1984.8 L552.1,1982.1 L554.8,1979.6 L557.5,1977.7 L560.3,1976.9 L563.0,1974.6 L565.9,1971.5 L568.7,1970.7 L571.6,1968.2 L574.4,1965.7 L577.3,1964.7 L580.4,1964.3 L583.5,1965.3 L586.5,1966.8 L589.6,1968.5 L592.7,1969.2 L595.8,1970.1 L597.0,1974.1 L598.3,1976.5 L599.5,1980.5 L600.8,1982.3 L602.0,1987.0 L603.7,1983.1 L605.3,1981.2 L607.0,1978.7 L608.7,1975.6 L610.4,1972.7 L612.0,1969.8 L613.7,1967.4 L615.4,1963.9 L617.1,1960.9 L618.7,1958.7 L620.4,1955.8 L623.7,1953.9 L627.0,1953.4 L630.2,1952.0 L633.5,1950.2 L636.8,1950.0 L639.2,1947.6 L641.7,1944.4 L644.1,1942.9 L646.6,1940.6 L649.0,1937.6 L651.9,1935.7 L654.9,1933.9 L657.8,1932.2 L660.8,1931.0 L663.7,1930.8 L666.7,1927.7 L669.6,1927.7 L672.5,1925.9 L675.5,1924.6 L678.4,1921.9 L681.3,1921.4 L684.2,1919.2 L687.2,1918.6 L690.1,1917.3 L693.4,1916.7 L696.7,1915.9 L700.0,1916.0 L702.3,1912.5 L704.7,1910.0 L707.0,1909.0 L709.4,1905.2 L711.7,1903.5 L714.1,1901.2 L716.4,1899.7 L719.7,1899.6 L723.0,1900.7 L726.2,1901.4 L729.5,1902.2 L732.8,1903.0 L735.1,1900.9 L737.5,1899.1 L739.8,1896.7 L742.2,1894.7 L744.5,1893.6 L746.9,1891.6 L749.2,1888.2 L752.2,1888.6 L755.2,1886.0 L758.1,1885.6 L761.1,1885.7 L764.1,1883.4 L767.1,1883.4 L770.1,1883.0 L773.1,1881.4 L776.0,1880.2 L779.0,1878.5 L782.0,1878.3 L784.7,1877.0 L787.5,1876.2 L790.2,1874.1 L792.9,1873.5 L795.7,1871.4 L798.4,1870.4 L801.5,1870.2 L804.5,1868.6 L807.6,1869.5 L810.7,1868.1 L813.8,1867.6 L816.9,1868.0 L819.9,1866.7 L823.0,1866.1 L825.7,1863.5 L828.5,1861.5 L831.2,1860.4 L833.9,1857.9 L836.7,1856.1 L839.4,1854.2 L842.5,1854.7 L845.5,1854.5 L848.6,1856.0 L851.7,1855.8 L854.8,1855.8 L857.9,1857.6 L860.9,1858.2 L864.0,1857.3 L867.2,1858.0 L870.4,1857.0 L873.6,1855.5 L876.8,1855.4 L880.0,1855.3 L883.2,1853.2 L886.4,1853.5 L889.6,1852.0 L892.8,1851.2 L895.8,1851.1 L898.9,1849.6 L902.0,1847.4 L905.0,1846.1 L908.2,1845.6 L911.4,1845.9 L914.6,1846.5 L917.8,1847.1 L921.0,1847.1 L924.2,1846.9 L927.4,1847.5 L930.6,1847.3 L933.8,1848.3 L936.8,1849.9 L939.9,1851.2 L943.0,1852.0 L946.0,1853.6 L948.8,1853.2 L951.5,1850.6 L954.2,1849.6 L957.0,1847.1 L959.8,1845.6 L962.5,1844.3 L965.6,1845.5 L968.6,1845.0 L971.7,1846.2 L974.8,1845.5 L977.8,1847.0 L980.9,1847.3 L983.9,1846.9 L987.0,1847.2 L990.2,1847.4 L993.3,1848.0 L996.5,1847.6 L999.6,1847.8 L1002.8,1849.0 L1005.9,1849.4 L1009.1,1848.2 L1012.2,1849.0 L1015.4,1849.4 L1018.5,1850.0 L1021.7,1849.5 L1024.8,1849.6 L1028.0,1850.2 L1031.2,1850.5 L1034.3,1850.7 L1037.5,1850.9 L1040.6,1851.5 L1043.8,1850.5 L1046.9,1852.1 L1050.1,1851.4 L1053.2,1852.0 L1056.4,1852.3 L1059.5,1852.9 L1062.7,1853.3 L1065.8,1853.6 L1069.0,1853.5 L1072.2,1854.0 L1075.3,1855.0 L1078.5,1856.0 L1081.6,1855.5 L1084.8,1855.3 L1087.9,1857.3 L1091.1,1857.8 L1094.2,1858.2 L1097.4,1858.3 L1100.5,1858.4 L1103.7,1858.3 L1106.8,1860.3 L1110.0,1859.9 L1113.3,1858.1 L1116.6,1857.7 L1119.9,1855.5 L1123.2,1854.8 L1126.5,1854.0 L1128.1,1857.2 L1129.8,1859.3 L1131.4,1861.9 L1133.1,1865.0 L1134.7,1868.8 L1137.9,1867.0 L1141.1,1866.6 L1144.3,1866.5 L1147.5,1867.1 L1150.6,1866.6 L1153.8,1866.2 L1157.0,1864.1 L1160.2,1864.5 L1163.4,1863.4 L1165.5,1866.7 L1167.5,1869.7 L1169.5,1871.7 L1171.6,1874.6 L1174.8,1875.1 L1177.9,1875.3 L1181.1,1875.5 L1184.2,1875.7 L1187.4,1877.1 L1190.5,1878.0 L1193.7,1878.5 L1196.8,1878.9 L1200.0,1879.2 L1203.1,1879.4 L1206.3,1879.5 L1209.4,1879.3 L1212.6,1881.0 L1215.8,1880.6 L1218.9,1882.5 L1222.1,1883.0 L1225.2,1882.6 L1228.4,1884.4 L1231.6,1884.7 L1234.7,1885.5 L1237.9,1884.8 L1241.1,1885.8 L1244.2,1886.2 L1247.4,1888.2 L1250.5,1887.6 L1253.7,1888.6 L1256.6,1889.9 L1259.6,1890.0 L1262.5,1891.1 L1265.4,1891.9 L1268.3,1892.2 L1271.3,1893.9 L1274.2,1894.2 L1277.1,1895.0 L1280.1,1895.7 L1283.0,1896.3 L1285.9,1896.2 L1288.8,1898.3 L1291.8,1899.1 L1294.7,1898.3 L1297.8,1899.0 L1300.8,1898.9 L1303.9,1899.1 L1307.0,1900.1 L1310.1,1900.1 L1313.2,1899.8 L1316.2,1900.7 L1319.3,1901.4 L1322.4,1900.6 L1325.4,1901.8 L1328.5,1902.0 L1331.6,1902.6 L1333.6,1905.5 L1335.7,1907.8 L1337.8,1909.5 L1339.8,1911.5 L1342.8,1912.6 L1345.8,1912.8 L1348.7,1914.6 L1351.7,1914.3 L1354.7,1915.2 L1357.7,1916.0 L1360.7,1916.1 L1363.7,1917.6 L1366.6,1917.6 L1369.6,1918.0 L1372.6,1917.8 L1375.7,1918.7 L1378.8,1920.2 L1381.9,1920.5 L1385.0,1921.5 L1388.1,1922.8 L1391.2,1923.2 L1394.3,1924.2 L1397.4,1924.1 L1400.5,1924.3 L1403.7,1925.3 L1406.8,1927.1 L1410.0,1926.5 L1413.1,1926.9 L1416.3,1927.5 L1419.4,1929.8 L1422.6,1929.0 L1425.7,1929.4 L1428.9,1930.5 L1432.0,1930.6 L1435.2,1932.5 L1438.3,1933.0 L1441.5,1933.2 L1444.4,1934.7 L1447.4,1934.5 L1450.3,1936.9 L1453.2,1937.7 L1456.1,1938.9 L1459.1,1938.8 L1462.0,1941.3 L1464.9,1942.4 L1467.9,1942.5 L1470.8,1943.3 L1473.7,1944.6 L1476.6,1946.0 L1479.6,1946.6 L1482.5,1947.8 L1485.4,1949.2 L1488.4,1949.5 L1491.3,1949.7 L1494.2,1951.4 L1497.1,1951.9 L1500.1,1951.2 L1503.0,1952.8 L1505.9,1953.2 L1508.9,1953.9 L1511.8,1954.8 L1514.7,1956.3 L1517.6,1956.6 L1520.6,1956.7 L1523.5,1957.1 L1526.4,1958.1 L1529.4,1959.4 L1532.3,1960.6 L1535.2,1961.4 L1538.1,1962.2 L1541.1,1963.2 L1544.0,1963.7 L1546.9,1965.7 L1549.9,1965.3 L1552.8,1966.4 L1555.7,1967.8 L1558.6,1969.1 L1561.6,1969.1 L1564.5,1970.4 L1567.4,1970.6 L1570.4,1970.9 L1573.3,1973.5 L1576.2,1972.7 L1579.1,1974.7 L1582.1,1974.2 L1585.0,1975.5 L1587.9,1976.7 L1590.9,1978.2 L1593.8,1978.8 L1596.7,1978.7 L1599.6,1979.0 L1602.6,1981.1 L1605.5,1981.9 L1608.5,1983.0 L1611.5,1982.2 L1614.5,1983.8 L1617.6,1984.4 L1620.6,1985.6 L1623.6,1986.2 L1626.6,1986.7 L1629.6,1987.6 L1632.6,1986.9 L1635.6,1989.2 L1638.6,1989.2 L1641.7,1990.4 L1644.7,1989.7 L1647.7,1991.0 L1650.7,1991.7" fill="none" stroke="#CC16D0" stroke-linejoin="round" stroke-linecap="round"/></defs>
<use href="#c5" stroke-width="11.8" stroke-opacity="0.42"/>
<use href="#c5" stroke-width="6.2"/>
<defs><path id="c6" d="M294.4,2165.6 L295.2,2168.9 L296.0,2172.1 L296.9,2175.4 L297.7,2178.6 L298.5,2182.2 L299.0,2178.6 L299.4,2175.8 L299.9,2171.9 L300.3,2169.0 L300.8,2165.9 L301.2,2162.5 L301.7,2159.9 L302.1,2156.3 L302.6,2153.6 L302.9,2156.8 L303.1,2159.1 L303.4,2162.7 L303.7,2165.6 L304.0,2168.5 L304.2,2170.9 L304.5,2174.3 L304.8,2177.5 L305.1,2180.2 L305.3,2183.1 L305.6,2186.2 L305.9,2189.1 L306.2,2192.7 L306.4,2195.2 L306.7,2198.3 L310.8,2198.5 L314.9,2198.8 L318.9,2198.2 L323.0,2197.9 L323.5,2201.9 L324.1,2204.9 L324.6,2207.9 L325.1,2210.7 L325.6,2213.5 L326.1,2216.5 L326.7,2219.7 L327.2,2223.0 L330.6,2220.5 L334.0,2219.1 L337.4,2217.1 L340.3,2218.2 L343.3,2220.8 L346.2,2222.2 L349.1,2224.3 L352.0,2225.7 L355.0,2227.7 L357.9,2229.2 L360.8,2230.2 L363.8,2230.9 L366.7,2231.3 L369.6,2232.3 L372.5,2233.3 L375.5,2234.3 L378.4,2235.2 L381.8,2234.7 L385.2,2234.1 L388.6,2233.2 L392.1,2232.4 L395.5,2231.9 L398.9,2231.7 L401.8,2230.3 L404.8,2229.0 L407.7,2228.0 L410.6,2226.2 L413.5,2224.9 L416.5,2223.8 L419.4,2222.6 L422.1,2221.1 L424.9,2220.4 L427.6,2219.3 L430.3,2217.1 L433.1,2216.4 L435.8,2215.2 L438.5,2213.7 L441.3,2211.7 L444.0,2210.8 L447.0,2209.3 L450.0,2208.1 L453.0,2206.9 L456.0,2206.3 L459.0,2205.5 L461.9,2203.6 L464.9,2202.5 L467.9,2201.6 L470.9,2200.2 L473.9,2199.5 L476.9,2198.6 L479.6,2197.0 L482.4,2195.2 L485.1,2193.8 L487.8,2192.6 L490.6,2191.7 L493.3,2190.6 L496.0,2188.8 L498.8,2187.1 L501.5,2185.8 L504.2,2184.6 L507.0,2183.0 L509.7,2181.6 L512.4,2180.6 L515.2,2179.6 L517.9,2177.6 L520.6,2176.9 L523.4,2175.5 L526.1,2173.7 L528.8,2172.2 L531.6,2170.8 L534.3,2169.9 L537.0,2168.7 L539.8,2167.3 L542.5,2165.3 L545.2,2164.3 L548.0,2162.6 L550.7,2161.7 L553.4,2160.4 L556.2,2159.0 L558.9,2157.7 L561.6,2157.3 L564.4,2155.4 L567.1,2154.3 L569.8,2153.1 L572.6,2151.8 L575.3,2150.7 L578.5,2150.6 L581.7,2150.6 L584.9,2150.2 L588.1,2150.7 L591.2,2150.8 L594.4,2150.8 L597.6,2150.4 L600.8,2150.6 L604.0,2150.9 L606.5,2148.8 L608.9,2146.0 L611.4,2144.3 L613.8,2142.0 L616.3,2140.5 L618.8,2138.1 L621.2,2136.1 L623.7,2133.8 L626.1,2132.0 L628.6,2130.2 L631.5,2129.0 L634.5,2127.4 L637.4,2126.4 L640.3,2125.5 L643.2,2123.7 L646.2,2123.4 L649.1,2121.4 L652.0,2120.8 L655.0,2119.2 L657.9,2118.8 L660.8,2117.4 L663.7,2115.8 L666.7,2114.9 L669.6,2114.0 L672.5,2112.9 L675.5,2111.5 L678.4,2110.3 L681.3,2109.3 L684.2,2108.3 L687.2,2106.7 L690.1,2105.6 L693.0,2104.6 L696.0,2103.2 L698.9,2101.7 L701.8,2100.9 L704.7,2099.5 L707.7,2098.7 L710.6,2097.5 L713.5,2096.5 L716.5,2094.6 L719.4,2093.3 L722.3,2093.0 L725.2,2091.7 L728.2,2090.8 L731.1,2089.4 L734.0,2088.4 L737.0,2086.4 L739.9,2085.3 L742.8,2084.5 L745.7,2083.5 L748.7,2081.7 L751.6,2081.3 L754.5,2079.7 L757.5,2078.8 L760.4,2078.2 L763.3,2077.0 L766.2,2076.1 L769.2,2075.2 L772.1,2074.2 L775.0,2073.5 L778.0,2073.1 L780.9,2072.3 L783.8,2071.4 L786.7,2070.2 L789.7,2069.6 L792.6,2068.1 L795.8,2068.2 L798.9,2067.1 L802.1,2066.2 L805.2,2065.9 L808.4,2065.0 L811.6,2065.0 L814.7,2064.0 L817.9,2063.0 L821.1,2062.5 L824.2,2061.8 L827.4,2062.0 L830.5,2060.8 L833.7,2060.6 L837.0,2060.1 L840.3,2059.6 L843.6,2059.6 L846.9,2059.2 L850.1,2058.3 L853.4,2059.0 L856.7,2058.0 L860.0,2058.1 L863.2,2057.3 L866.3,2057.4 L869.5,2056.1 L872.6,2055.5 L875.8,2055.1 L878.9,2054.9 L882.1,2054.9 L885.2,2054.0 L888.4,2054.0 L891.5,2052.8 L894.7,2053.1 L897.8,2051.8 L901.0,2052.1 L904.2,2050.9 L907.3,2050.8 L910.5,2050.4 L913.6,2050.3 L916.8,2049.3 L919.9,2049.2 L923.1,2048.0 L926.2,2048.3 L929.4,2047.5 L932.5,2047.0 L935.7,2047.0 L938.8,2045.9 L942.0,2045.7 L945.2,2045.6 L948.3,2045.3 L951.5,2045.0 L954.6,2045.3 L957.8,2045.0 L960.9,2045.3 L964.1,2045.0 L967.2,2044.6 L970.4,2045.2 L973.5,2045.3 L976.7,2045.0 L979.8,2044.6 L983.0,2044.5 L986.2,2045.2 L989.3,2044.6 L992.5,2044.9 L995.6,2044.3 L998.8,2045.0 L1001.9,2045.1 L1005.1,2044.5 L1008.2,2044.5 L1011.4,2044.9 L1014.5,2045.2 L1017.7,2045.0 L1020.8,2044.2 L1024.0,2044.3 L1027.2,2045.3 L1030.3,2045.0 L1033.5,2045.8 L1036.6,2045.5 L1039.8,2046.2 L1042.9,2045.8 L1046.1,2046.7 L1049.2,2046.5 L1052.4,2046.2 L1055.5,2046.6 L1058.7,2046.7 L1061.8,2047.3 L1065.0,2048.1 L1068.2,2048.4 L1071.3,2048.7 L1074.5,2048.5 L1077.6,2049.1 L1080.8,2049.4 L1083.9,2049.8 L1087.1,2050.3 L1090.2,2050.5 L1093.4,2050.7 L1096.5,2050.6 L1099.7,2050.7 L1102.8,2051.3 L1106.0,2051.5 L1109.2,2052.4 L1112.3,2052.3 L1115.5,2052.8 L1118.6,2053.8 L1121.8,2053.6 L1124.9,2054.1 L1128.1,2054.5 L1131.2,2055.0 L1134.4,2055.6 L1137.5,2056.7 L1140.7,2056.7 L1143.8,2057.0 L1147.0,2057.9 L1150.2,2058.1 L1153.3,2058.0 L1156.5,2058.4 L1159.6,2058.9 L1162.8,2059.4 L1165.9,2059.4 L1169.1,2060.0 L1172.2,2060.4 L1175.4,2061.2 L1178.5,2061.2 L1181.7,2061.2 L1184.8,2061.4 L1188.0,2061.7 L1191.2,2062.2 L1194.3,2063.1 L1197.5,2063.4 L1200.6,2062.9 L1203.8,2063.7 L1206.9,2064.1 L1210.1,2064.6 L1213.2,2064.7 L1216.4,2064.9 L1219.5,2064.7 L1222.7,2065.1 L1225.8,2066.1 L1229.0,2066.4 L1232.2,2066.9 L1235.3,2066.8 L1238.5,2067.7 L1241.6,2068.2 L1244.8,2068.3 L1247.9,2068.7 L1251.1,2069.3 L1254.2,2069.9 L1257.4,2069.8 L1260.5,2070.3 L1263.7,2071.7 L1266.8,2071.6 L1270.0,2072.1 L1273.2,2072.8 L1276.3,2073.2 L1279.5,2073.8 L1282.6,2074.1 L1285.8,2074.1 L1288.9,2074.6 L1292.1,2075.3 L1295.2,2075.9 L1298.4,2077.0 L1301.5,2077.0 L1304.7,2077.1 L1307.8,2078.3 L1311.0,2078.2 L1314.2,2078.8 L1317.3,2079.5 L1320.5,2080.0 L1323.6,2080.0 L1326.8,2080.7 L1329.9,2080.7 L1333.1,2082.1 L1336.2,2082.5 L1339.4,2082.9 L1342.5,2082.8 L1345.7,2083.7 L1348.8,2084.0 L1352.0,2084.2 L1355.1,2084.3 L1358.2,2085.0 L1361.3,2084.8 L1364.4,2084.8 L1367.6,2084.4 L1370.7,2084.9 L1373.8,2085.3 L1376.9,2084.6 L1380.0,2084.7 L1383.2,2085.9 L1386.3,2085.7 L1389.5,2086.4 L1392.6,2087.3 L1395.8,2087.6 L1398.9,2087.7 L1402.1,2088.2 L1405.2,2088.6 L1408.4,2088.8 L1411.5,2089.8 L1414.7,2089.9 L1417.8,2090.5 L1421.0,2091.5 L1424.2,2091.3 L1427.3,2091.7 L1430.5,2092.2 L1433.6,2093.2 L1436.8,2093.3 L1439.9,2093.8 L1443.1,2094.5 L1446.2,2095.2 L1449.4,2095.9 L1452.5,2095.5 L1455.7,2096.2 L1458.8,2096.3 L1462.0,2097.2 L1465.2,2097.8 L1468.3,2097.8 L1471.5,2098.2 L1474.6,2098.4 L1477.8,2099.4 L1480.9,2099.5 L1484.1,2099.9 L1487.2,2099.9 L1490.4,2100.5 L1493.5,2100.6 L1496.7,2100.4 L1499.8,2100.7 L1503.0,2101.9 L1506.2,2101.9 L1509.3,2102.4 L1512.5,2102.7 L1515.6,2103.4 L1518.8,2103.1 L1521.9,2103.5 L1525.1,2103.9 L1528.2,2104.8 L1531.4,2105.1 L1534.5,2105.4 L1537.7,2105.5 L1540.8,2106.1 L1544.0,2106.4 L1547.2,2106.5 L1550.3,2107.7 L1553.5,2107.8 L1556.6,2108.2 L1559.8,2108.1 L1562.9,2108.8 L1566.1,2109.1 L1569.2,2108.9 L1572.4,2109.9 L1575.5,2110.1 L1578.7,2109.6 L1581.8,2110.0 L1585.0,2110.3 L1588.2,2111.2 L1591.3,2111.0 L1594.5,2111.3 L1597.6,2111.5 L1600.8,2112.2 L1603.9,2112.4 L1607.1,2113.0 L1610.2,2112.9 L1613.4,2113.7 L1616.5,2114.0 L1619.7,2114.1 L1622.8,2115.0 L1626.0,2114.9 L1629.3,2115.2 L1632.7,2115.3 L1636.0,2115.8 L1639.3,2116.6 L1642.7,2116.6 L1646.0,2116.7 L1649.4,2117.4 L1652.7,2117.9" fill="none" stroke="#0C0CB0" stroke-linejoin="round" stroke-linecap="round"/></defs>
<use href="#c6" stroke-width="11.8" stroke-opacity="0.42"/>
<use href="#c6" stroke-width="6.2"/>
<defs><path id="c7" d="M325.0,1568.2 L337.4,1662.5 L353.8,1765.0 L370.2,1867.6 L388.7,1970.0 L407.1,2072.6 L411.2,2100.0 L423.5,2141.0 L435.8,2173.8 L448.2,2202.5 L460.5,2223.0 L476.9,2243.5 L493.3,2260.0 L513.8,2268.1 L534.3,2270.2 L554.8,2262.0 L575.3,2251.7 L595.8,2241.5 L608.1,2241.5 L632.7,2229.2 L657.3,2216.9 L690.1,2212.8 L731.1,2210.7 L751.6,2214.8 L792.6,2227.1 L833.7,2243.5 L860.0,2250.6 L880.5,2258.8 L921.5,2277.3 L962.5,2287.5 L1003.5,2299.8 L1044.6,2308.0 L1085.6,2318.3 L1114.3,2326.5 L1147.0,2328.5 L1188.0,2330.6 L1229.0,2332.7 L1270.0,2332.7 L1303.0,2336.8 L1317.4,2342.6 L1352.0,2345.0 L1393.2,2349.0 L1426.7,2352.0 L1508.7,2354.7 L1536.0,2360.0 L1601.7,2362.9 L1650.9,2371.0" fill="none" stroke="#C4161C" stroke-linejoin="round" stroke-linecap="round"/></defs>
<use href="#c7" stroke-width="11.8" stroke-opacity="0.42"/>
<use href="#c7" stroke-width="6.2"/>
<defs><path id="c8" d="M323.0,1568.2 L329.2,1662.5 L335.4,1765.0 L341.5,1867.6 L349.7,1970.0 L356.0,2040.0 L362.0,2100.0 L368.2,2141.0 L378.4,2182.0 L390.7,2223.0 L403.0,2260.0 L419.4,2288.7 L444.0,2311.2 L472.8,2323.5 L505.6,2331.7 L534.3,2340.0 L567.0,2356.3 L591.7,2374.8 L616.3,2395.3 L641.0,2411.7 L669.6,2432.2 L702.4,2452.7 L731.1,2469.1 L772.1,2485.5 L813.2,2497.8 L880.0,2512.0 L989.4,2529.6 L1098.7,2543.3 L1208.0,2557.0 L1317.4,2573.4 L1426.7,2598.0 L1536.0,2622.6 L1650.9,2644.5" fill="none" stroke="#050505" stroke-linejoin="round" stroke-linecap="round"/></defs>
<use href="#c8" stroke-width="12.3" stroke-opacity="0.42"/>
<use href="#c8" stroke-width="6.5"/>
</g>
<rect x="286.80" y="1562.20" width="11.00" height="1257.80" fill="#000"/>
<rect x="1649.30" y="1562.20" width="10.00" height="1257.80" fill="#000"/>
<rect x="286.80" y="1562.20" width="1372.50" height="12.40" fill="#000"/>
<rect x="286.80" y="2808.00" width="1372.50" height="12.00" fill="#000"/>
<rect x="513.65" y="2795.00" width="10.00" height="15.00" fill="#000"/>
<rect x="740.30" y="2781.00" width="11.00" height="29.00" fill="#000"/>
<rect x="967.95" y="2795.00" width="10.00" height="15.00" fill="#000"/>
<rect x="1194.60" y="2781.00" width="11.00" height="29.00" fill="#000"/>
<rect x="1422.25" y="2795.00" width="10.00" height="15.00" fill="#000"/>
<g font-family="'Liberation Serif', 'Times New Roman', serif" font-size="100">
<text transform="translate(238.38,2908.24) scale(0.6950,0.8806)" font-weight="bold" fill="#000">300</text>
<text transform="translate(693.92,2908.24) scale(0.6950,0.8806)" font-weight="bold" fill="#000">400</text>
<text transform="translate(1146.88,2908.24) scale(0.6950,0.8806)" font-weight="bold" fill="#000">500</text>
<text transform="translate(1602.82,2908.24) scale(0.6950,0.8806)" font-weight="bold" fill="#000">600</text>
<text transform="translate(647.32,3025.00) scale(0.8848,1.1000)" font-weight="bold" fill="#000">Wavelength (nm)</text>
<text transform="translate(241.00,2558.55) rotate(-90) scale(1.0835,0.8923)" font-weight="bold">Intensity (a.u.)</text>
<text transform="translate(31.91,1675.20) scale(1.3981,1.4667)" font-weight="normal" fill="#000">(b)</text>
<text transform="translate(442.03,2476.00) scale(0.4846,0.6077)" font-weight="bold" fill="#000">Bare ZnO</text>
<text transform="translate(439.40,2566.50) scale(0.5191,0.5077)" font-weight="bold" fill="#000">ZnO@0.01Ag SRA</text>
<text transform="translate(441.87,2677.00) scale(0.5259,0.5462)" font-weight="bold" fill="#000">ZnO@0.10Ag SRA</text>
<text transform="translate(438.87,2784.00) scale(0.5253,0.5231)" font-weight="bold" fill="#000">ZnO@0.25Ag SRA</text>
</g>
<rect x="304.00" y="2443.90" width="132.00" height="7.20" fill="#111"/>
<rect x="304.00" y="2551.70" width="132.00" height="7.20" fill="#B81A1E"/>
<rect x="304.00" y="2659.60" width="132.00" height="7.20" fill="#1010B0"/>
<rect x="304.00" y="2767.80" width="132.00" height="7.20" fill="#E08CE0"/>
</svg></body></html>
